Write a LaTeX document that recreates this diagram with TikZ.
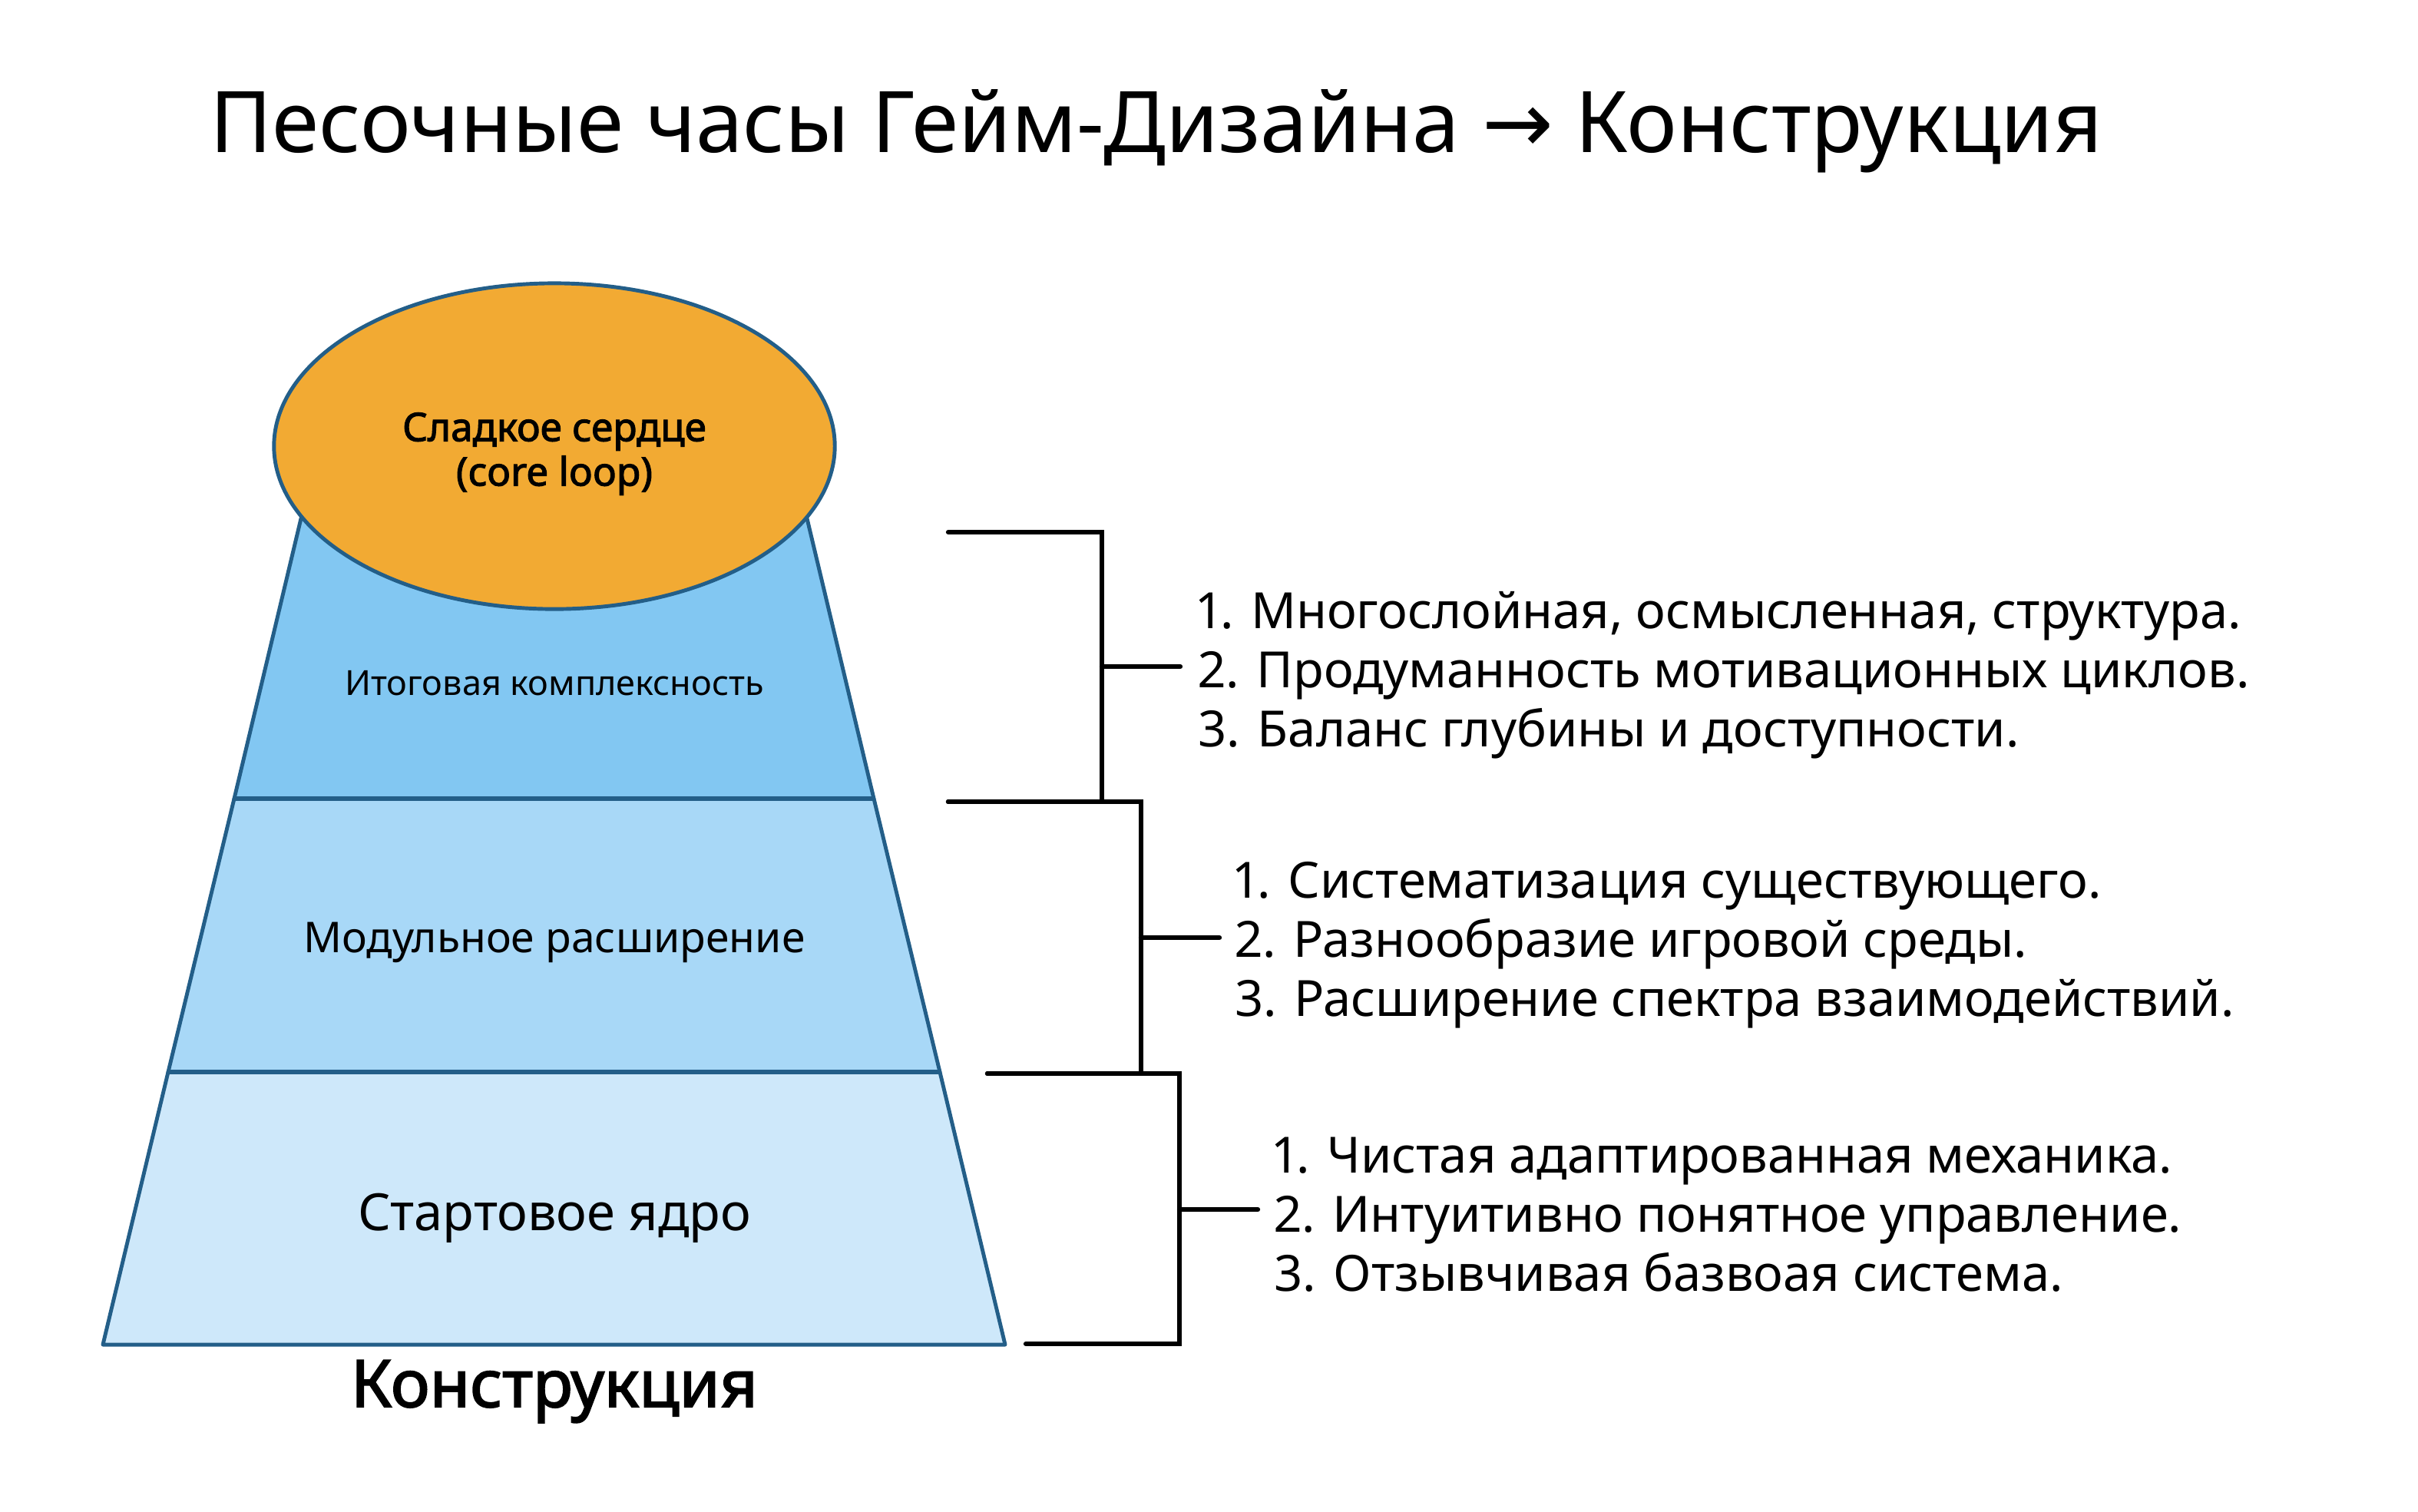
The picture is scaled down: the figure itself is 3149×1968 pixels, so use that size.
\documentclass[tikz,border=0pt]{standalone}
\usepackage{fontspec}
\setmainfont{Noto Sans}[AutoFakeBold=2.2, Numbers=Proportional]
\newfontfamily\arrowfont{DejaVu Sans}
\usetikzlibrary{shapes.geometric}
\definecolor{coreorange}{HTML}{F2AA33}
\definecolor{edgeblue}{HTML}{235E88}
\definecolor{layertop}{HTML}{82C7F2}
\definecolor{layermid}{HTML}{A8D8F7}
\definecolor{layerlow}{HTML}{CEE8FA}
\tikzset{
  layer/.style={draw=edgeblue, line width=1.4pt, line join=round},
  sep/.style={draw=edgeblue, line width=1.9pt},
  brace/.style={line width=1.8pt, line cap=round},
  points/.style={anchor=west, align=left, inner sep=0pt, font=\fontsize{18.5}{21.9}\selectfont},
}
\begin{document}
\begin{tikzpicture}[x=0.01cm, y=-0.01cm]
\useasboundingbox (0,0) rectangle (3149,1968);
\node[font=\fontsize{31.5}{36}\selectfont] (title) at (1506,171) {Песочные часы Гейм-Дизайна {\arrowfont →} Конструкция};

\filldraw[layer, fill=layerlow] (134,1751) -- (219,1396) -- (1224,1396) -- (1309,1751) -- cycle;
\filldraw[layer, fill=layermid] (219,1396) -- (305,1040) -- (1138,1040) -- (1224,1396) -- cycle;
\filldraw[layer, fill=layertop] (305,1040) -- (398,650) -- (1045,650) -- (1138,1040) -- cycle;
\draw[sep] (219,1396) -- (1224,1396);
\draw[sep] (305,1040) -- (1138,1040);

\node[ellipse, draw=edgeblue, line width=1.4pt, fill=coreorange, minimum width=7.3cm, minimum height=4.24cm] (core) at (722,581) {};
\node[align=center, font=\bfseries\fontsize{14.6}{16.5}\selectfont] (corelbl) at ([yshift=-0.1cm]core.center) {Сладкое сердце\\(core loop)};
\node[font=\fontsize{12.8}{15}\selectfont] (toplbl) at (722,890) {Итоговая комплексность};
\node[font=\fontsize{15.7}{20}\selectfont] (midlbl) at (722,1227) {Модульное расширение};
\node[font=\fontsize{19}{22}\selectfont] (lowlbl) at (722,1586) {Стартовое ядро};
\node[font=\bfseries\fontsize{24.3}{28}\selectfont] (base) at (722,1812) {Конструкция};

\node[points] (pts1) at (1560,879) {1. Многослойная, осмысленная, структура.\\2. Продуманность мотивационных циклов.\\3. Баланс глубины и доступности.};
\node[points] (pts2) at (1608,1231) {1. Систематизация существующего.\\2. Разнообразие игровой среды.\\3. Расширение спектра взаимодействий.};
\node[points] (pts3) at (1659,1582) {1. Чистая адаптированная механика.\\2. Интуитивно понятное управление.\\3. Отзывчивая базвоая система.};

\coordinate (t1) at (1235,693);
\coordinate (m1) at (1435,868);
\coordinate (u1) at (1235,1044);
\coordinate (t2) at (1235,1044);
\coordinate (m2) at (1486,1221);
\coordinate (u2) at (1286,1398);
\coordinate (t3) at (1286,1398);
\coordinate (m3) at (1536,1575);
\coordinate (u3) at (1336,1750);
\draw[brace] (t1) -| (m1) |- (u1);
\draw[brace] (t2) -| (m2) |- (u2);
\draw[brace] (t3) -| (m3) |- (u3);
\draw[brace, shorten >=0.23cm] (m1) -- (m1 -| pts1.west);
\draw[brace, shorten >=0.2cm] (m2) -- (m2 -| pts2.west);
\draw[brace, shorten >=0.21cm] (m3) -- (m3 -| pts3.west);
\end{tikzpicture}
\end{document}
